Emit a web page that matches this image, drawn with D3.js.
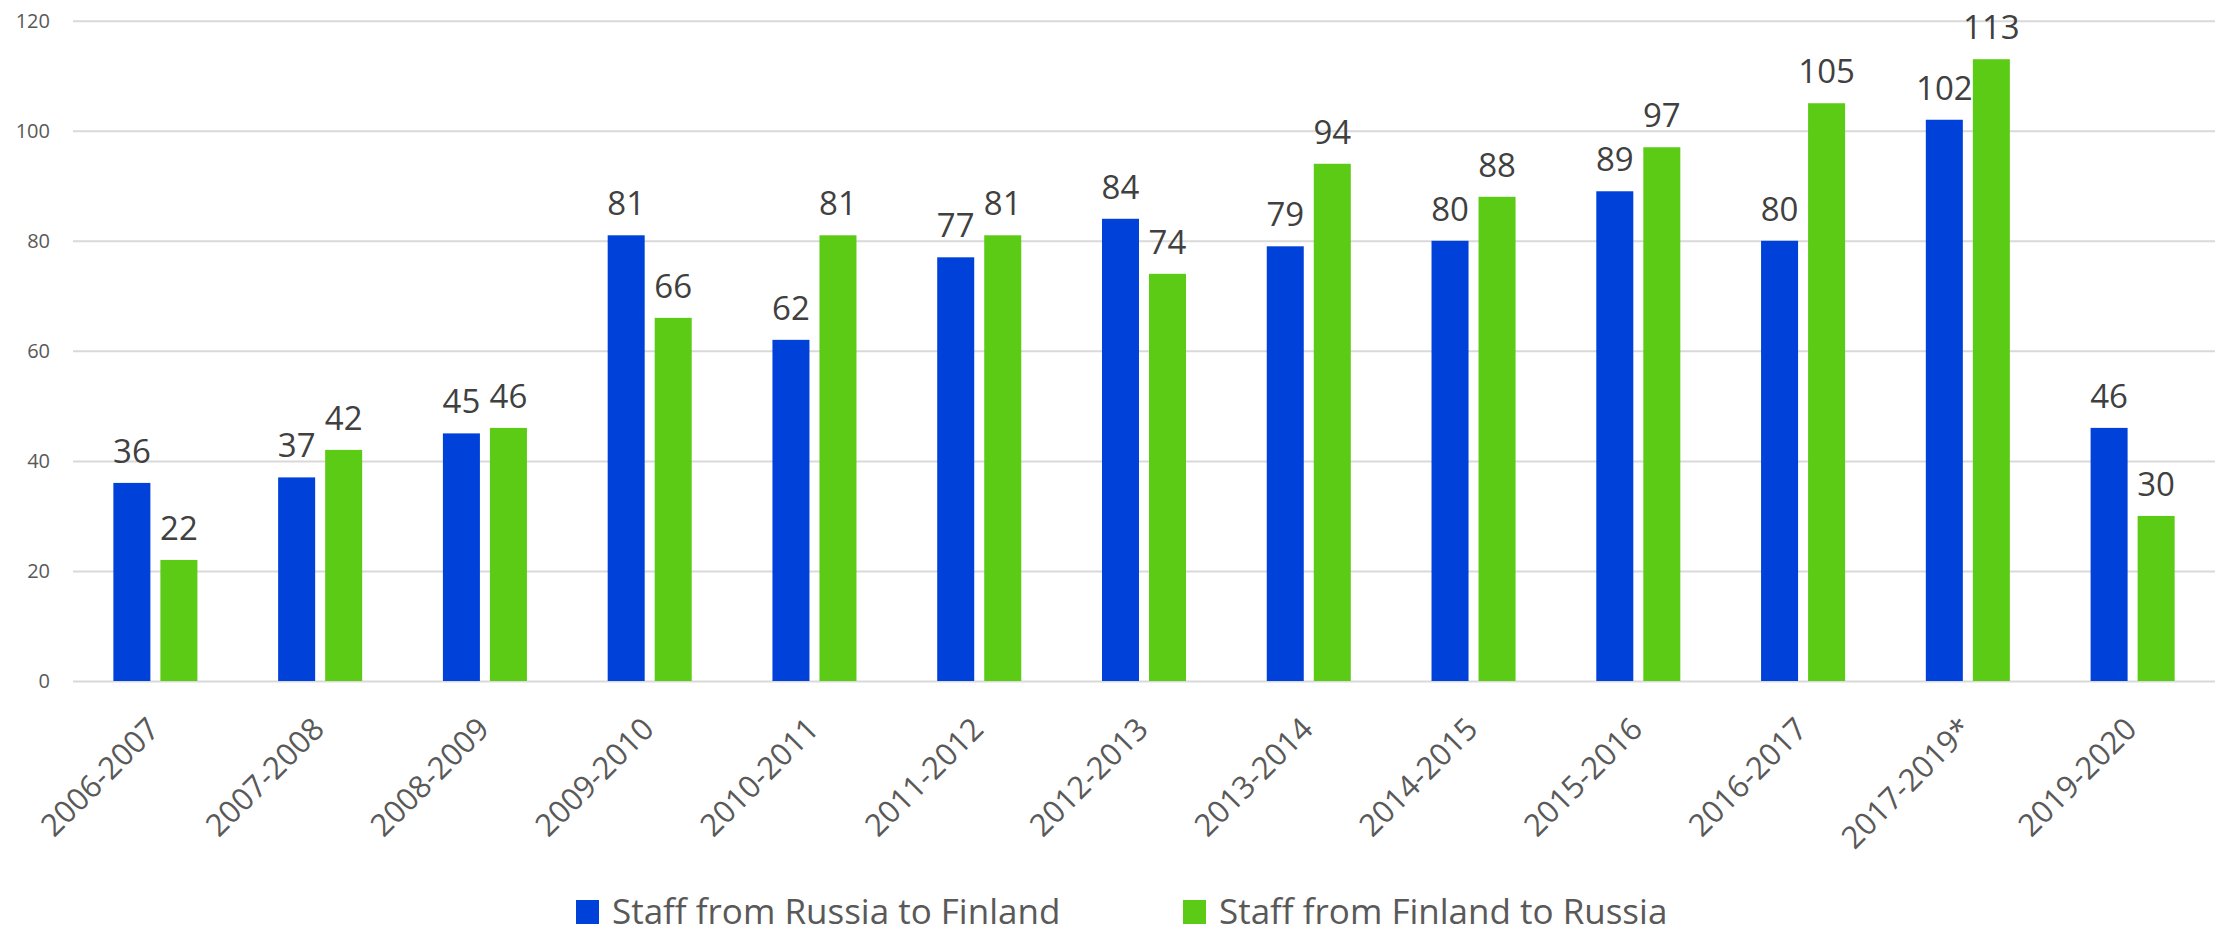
<!DOCTYPE html>
<html>
<head>
<meta charset="utf-8">
<title>Staff exchange</title>
<script src="https://cdn.jsdelivr.net/npm/d3@7"></script>
<style>
  body { margin: 0; background: #fff; }
  text { font-family: "Open Sans", sans-serif; }
</style>
</head>
<body>
<div id="chart"></div>
<script>
// data
let periods = ['2006-2007','2007-2008','2008-2009','2009-2010','2010-2011','2011-2012',
  '2012-2013','2013-2014','2014-2015','2015-2016','2016-2017','2017-2019*','2019-2020'];
let russiaToFinland = [36, 37, 45, 81, 62, 77, 84, 79, 80, 89, 80, 102, 46];
let finlandToRussia = [22, 42, 46, 66, 81, 81, 74, 94, 88, 97, 105, 113, 30];
let seriesNames = ['Staff from Russia to Finland', 'Staff from Finland to Russia'];
let seriesColors = ['#0041d9', '#5bcb15'];
let yTicks = [0, 20, 40, 60, 80, 100, 120];

let svgw = 2222, svgh = 936;
let margin = {top: 20.7, right: 7, bottom: 255, left: 73};
let vizw = svgw - margin.left - margin.right;
let vizh = svgh - margin.top - margin.bottom;

let rows = periods.map((p, i) => ({period: p, values: [russiaToFinland[i], finlandToRussia[i]]}));

let svg = d3.select('#chart').append('svg')
  .attr('width', svgw)
  .attr('height', svgh);

let g = svg.append('g').attr('transform', `translate(${margin.left},${margin.top})`);

let x0 = d3.scaleBand()
  .domain(periods)
  .range([0, vizw])
  .paddingInner(0.49)
  .paddingOuter(0.245);

let x1 = d3.scaleBand()
  .domain([0, 1])
  .range([0, x0.bandwidth()])
  .paddingInner(0.213);

let y = d3.scaleLinear()
  .domain([0, 120])
  .range([vizh, 0]);

// y axis + gridlines
let yAxis = g.append('g')
  .call(d3.axisLeft(y).tickValues(yTicks).tickSize(-vizw).tickPadding(23));
yAxis.select('.domain').remove();
yAxis.selectAll('.tick line').attr('stroke', '#d9d9d9').attr('stroke-width', 2);
yAxis.selectAll('.tick text')
  .attr('fill', '#595959')
  .style('font-size', '20px');

// x axis labels
let xAxis = g.append('g')
  .attr('transform', `translate(0,${vizh})`)
  .call(d3.axisBottom(x0).tickSize(0).tickPadding(0));
xAxis.select('.domain').remove();
xAxis.selectAll('.tick text')
  .attr('fill', '#595959')
  .style('font-size', '31px')
  .attr('text-anchor', 'end')
  .attr('dy', null)
  .attr('y', 0)
  .attr('transform', 'translate(6,50) rotate(-45)');

// bars
let groups = g.append('g')
  .selectAll('g')
  .data(rows)
  .enter()
  .append('g')
  .attr('transform', d => `translate(${x0(d.period)},0)`);

groups.selectAll('rect')
  .data(d => d.values.map((v, k) => ({k: k, v: v})))
  .enter()
  .append('rect')
  .attr('x', d => x1(d.k))
  .attr('y', d => y(d.v))
  .attr('width', x1.bandwidth())
  .attr('height', d => vizh - y(d.v))
  .attr('fill', d => seriesColors[d.k]);

groups.selectAll('text')
  .data(d => d.values.map((v, k) => ({k: k, v: v})))
  .enter()
  .append('text')
  .attr('x', d => x1(d.k) + x1.bandwidth() / 2)
  .attr('y', d => y(d.v) - 20)
  .attr('text-anchor', 'middle')
  .attr('fill', '#404040')
  .style('font-size', '33px')
  .text(d => d.v);

// legend
let legendX = [576, 1183];
let legend = svg.append('g')
  .selectAll('g')
  .data(seriesNames)
  .enter()
  .append('g')
  .attr('transform', (d, i) => `translate(${legendX[i]},900)`);

legend.append('rect')
  .attr('width', 23)
  .attr('height', 24)
  .attr('fill', (d, i) => seriesColors[i]);

legend.append('text')
  .attr('x', 36)
  .attr('y', 24)
  .attr('fill', '#595959')
  .style('font-size', '35px')
  .text(d => d);
</script>
</body>
</html>
